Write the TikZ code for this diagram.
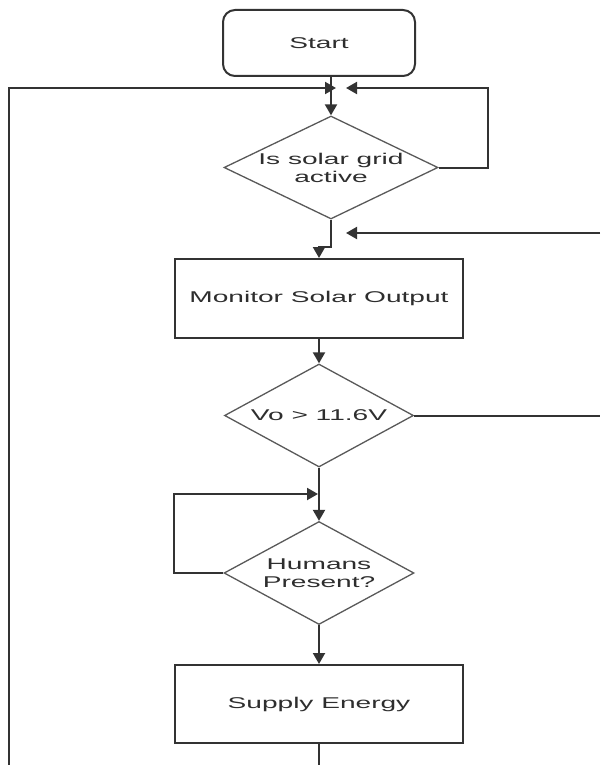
\documentclass[tikz,border=0pt]{standalone}
\usepackage{fontspec}
\newfontfamily\flowfont[FakeStretch=1.8]{Liberation Sans}
\usetikzlibrary{shapes.geometric,arrows.meta}

\begin{document}
\begin{tikzpicture}[x=1pt,y=-1pt,line width=2pt,draw=black!80,
	every node/.style={font=\flowfont\fontsize{15.6}{18}\selectfont,text=black!82,align=center},
	flowbox/.style={draw,rectangle,minimum width=288pt,minimum height=79pt,inner sep=0pt},
	decision/.style={draw,diamond,line width=1.3pt,draw=black!65,inner sep=0pt,minimum height=103pt},
	flow/.style={-{Triangle[width=12pt,length=11pt]}}]

	\useasboundingbox (0,0) rectangle (600,765);

	\node[draw,rounded corners=12pt,minimum width=192pt,minimum height=66pt] (start) at (319,43) {Start};
	\node[decision,minimum width=214pt,label={center:Is solar grid\\active}] (solar) at (331,167.5) {};
	\node[flowbox] (monitor) at (319,298.5) {Monitor Solar Output};
	\node[decision,minimum width=189pt,label={center:Vo > 11.6V}] (volt) at (319,415.5) {};
	\node[decision,minimum width=190pt,label={center:Humans\\Present?}] (humans) at (319,573) {};
	\node[flowbox,minimum height=78pt] (supply) at (319,704) {Supply Energy};

	\coordinate (leftbot) at (9,765);
	\coordinate (leftjoin) at (336,88);
	\coordinate (rightjoin) at (346,88);
	\coordinate (retin) at (600,233);
	\coordinate (retjoin) at (346,233);
	\coordinate (voltout) at (600,415.5);
	\coordinate (humjoin) at (318,494);
	\coordinate (supplybot) at (319,765);

	\draw[flow] (start.south -| solar.north) -- (solar.north);
	\draw[flow] (leftbot) |- (leftjoin);
	\draw[flow] (solar.east) -- ++(49,0) |- (rightjoin);
	\draw[flow] (solar.south) -- ++(0,27) -| (monitor.north);
	\draw[flow] (retin) -- (retjoin);
	\draw[flow] (monitor.south) -- (volt.north);
	\draw (volt.east) -- (voltout);
	\draw[flow] (volt.south) -- (humans.north);
	\draw[flow] (humans.west) -- ++(-49,0) |- (humjoin);
	\draw[flow] (humans.south) -- (supply.north);
	\draw (supply.south) -- (supplybot);

\end{tikzpicture}
\end{document}
